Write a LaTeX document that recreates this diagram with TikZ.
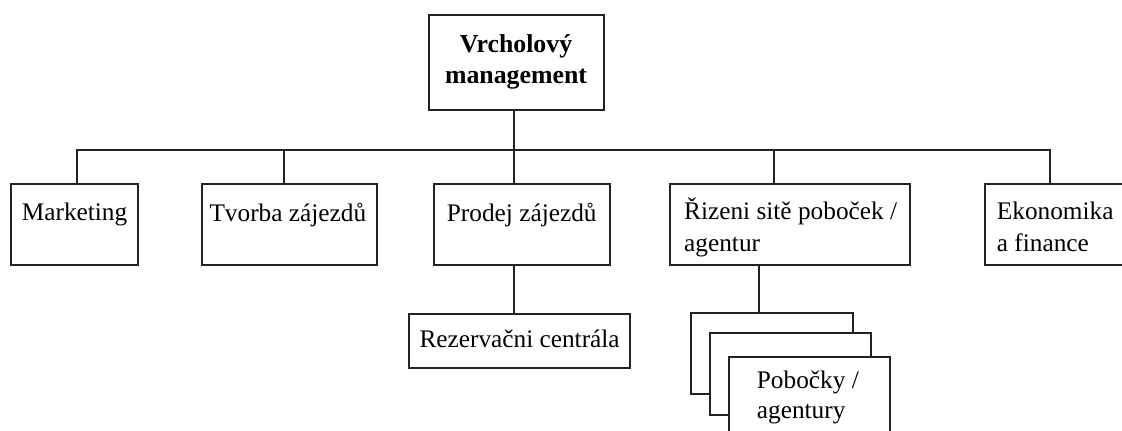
\documentclass[tikz,border=0pt]{standalone}
\usepackage{fontspec}
\setmainfont{Liberation Serif}
\definecolor{ln}{HTML}{222222}
\begin{document}
\begin{tikzpicture}[x=1pt,y=-1pt,
  box/.style={draw=ln, line width=1.8pt, fill=white, inner sep=0pt, anchor=north west},
  txt/.style={inner sep=0pt, anchor=base west, font=\fontsize{25.3}{30}\selectfont},
  btxt/.style={inner sep=0pt, anchor=base, font=\fontsize{25.8}{30}\selectfont\bfseries},
  conn/.style={draw=ln, line width=1.8pt}]
\clip (0,0) rectangle (1122,431);
\fill[white] (0,0) rectangle (1122,431);
% boxes
\node[box, minimum width=175pt, minimum height=95pt] (top) at (428.3,14) {};
\node[box, minimum width=126.7pt, minimum height=81.3pt] (mkt) at (10,183) {};
\node[box, minimum width=175.3pt, minimum height=81.3pt] (tvo) at (200.7,183) {};
\node[box, minimum width=175.7pt, minimum height=81.3pt] (pro) at (433.3,183) {};
\node[box, minimum width=240pt, minimum height=81.3pt] (riz) at (669.3,183) {};
\node[box, minimum width=150pt, minimum height=81.3pt] (eko) at (984,183) {};
\node[box, minimum width=221.3pt, minimum height=53.4pt] (rez) at (408,313.3) {};
\node[box, minimum width=161.7pt, minimum height=81.6pt] (pb1) at (690,311.7) {};
\node[box, minimum width=160.7pt, minimum height=82pt] (pb2) at (709.3,332.3) {};
\node[box, minimum width=161.3pt, minimum height=90pt] (pb3) at (727.7,355.7) {};
% texts
\node[btxt] (t1) at (516,52.7) {Vrcholový};
\node[btxt] (t2) at (516,83.3) {management};
\node[txt] (tm) at (21.7,220) {Marketing};
\node[txt] (tt) at (209.3,221.5) {Tvorba zájezdů};
\node[txt] (tp) at (446.7,221.5) {Prodej zájezdů};
\node[txt] (tr1) at (684,219.5) {Řizeni sitě poboček /};
\node[txt] (tr2) at (684,251.5) {agentur};
\node[txt] (te1) at (996.7,219.5) {Ekonomika};
\node[txt] (te2) at (996.7,251.5) {a finance};
\node[txt] (tz) at (419.3,347.7) {Rezervačni centrála};
\node[txt] (tb1) at (756.7,388.3) {Pobočky /};
\node[txt] (tb2) at (756.7,418.3) {agentury};
% connector points
\coordinate (bus) at (513.7,149.7);
\coordinate (dm) at (76.7,183);
\coordinate (dt) at (284,183);
\coordinate (dp) at (513.7,183);
\coordinate (dr) at (773.7,183);
\coordinate (de) at (1050,183);
\coordinate (upr) at (513.7,264.3);
\coordinate (urz) at (759.3,264.3);
\coordinate (drz) at (759.3,311.7);
\coordinate (dzz) at (513.7,313.3);
% connectors
\draw[conn] (top.south -| bus) -- (bus);
\draw[conn] (dm) -- (dm |- bus) -- (de |- bus) -- (de);
\draw[conn] (dt |- bus) -- (dt);
\draw[conn] (dp |- bus) -- (dp);
\draw[conn] (dr |- bus) -- (dr);
\draw[conn] (upr) -- (dzz);
\draw[conn] (urz) -- (drz);
\end{tikzpicture}
\end{document}
